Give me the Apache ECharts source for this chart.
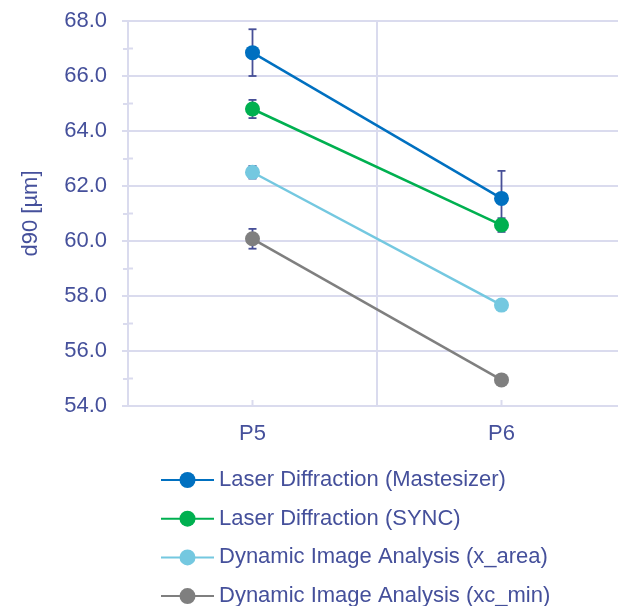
<!DOCTYPE html>
<html>
<head>
<meta charset="utf-8">
<script src="https://cdn.jsdelivr.net/npm/echarts@6/dist/echarts.min.js"></script>
<style>
  html, body { margin: 0; padding: 0; background: #ffffff; }
  #chart { width: 618px; height: 606px; }
</style>
</head>
<body>
<div id="chart"></div>
<script>
// Samples on the category axis
const categories = ['P5', 'P6'];

// d90 values [µm] per method
const mastesizer = [66.85, 61.55];
const sync = [64.8, 60.58];
const xArea = [62.5, 57.67];
const xcMin = [60.08, 54.95];

// Standard deviations drawn as error bars
const mastesizerErr = [0.85, 1.0];
const syncErr = [0.33, 0.25];
const xAreaErr = [0.23, 0.1];
const xcMinErr = [0.36, 0.1];

// Series names shown in the legend
const seriesNames = [
  'Laser Diffraction (Mastesizer)',
  'Laser Diffraction (SYNC)',
  'Dynamic Image Analysis (x_area)',
  'Dynamic Image Analysis (xc_min)'
];

// Value-axis range and minor tick positions
const yMin = 54, yMax = 68, yStep = 2;
const minorTickValues = [55, 57, 59, 61, 63, 65, 67];

const colors = ['#0070c0', '#00b050', '#74c8e0', '#7f7f7f'];
const textColor = '#45509b';
const gridColor = '#dadbee';
const errColor = '#474f97';
const fontFamily = '"Liberation Sans", Arial, sans-serif';

const values = [mastesizer, sync, xArea, xcMin];
const errors = [mastesizerErr, syncErr, xAreaErr, xcMinErr];

const lineSeries = seriesNames.map((name, i) => ({
  name: name,
  type: 'line',
  data: values[i],
  symbol: 'circle',
  symbolSize: 15,
  z: 5,
  itemStyle: { color: colors[i] },
  lineStyle: { color: colors[i], width: 2.5 },
  emphasis: { disabled: true }
}));

// Error bars: vertical whisker with caps, below the markers
const errorSeries = seriesNames.map((name, i) => ({
  type: 'custom',
  name: name + ' err',
  z: 3,
  silent: true,
  data: values[i].map((v, j) => [j, v - errors[i][j], v + errors[i][j]]),
  renderItem: function (params, api) {
    const lo = api.coord([api.value(0), api.value(1)]);
    const hi = api.coord([api.value(0), api.value(2)]);
    const cap = 4;
    const style = { stroke: errColor, lineWidth: 1.8, fill: null };
    return {
      type: 'group',
      children: [
        { type: 'line', shape: { x1: lo[0], y1: lo[1], x2: hi[0], y2: hi[1] }, style: style },
        { type: 'line', shape: { x1: lo[0] - cap, y1: lo[1], x2: lo[0] + cap, y2: lo[1] }, style: style },
        { type: 'line', shape: { x1: hi[0] - cap, y1: hi[1], x2: hi[0] + cap, y2: hi[1] }, style: style }
      ]
    };
  }
}));

// Inner halves of the crossing tick marks on both axes
const tickSeries = {
  type: 'custom',
  name: 'ticks',
  silent: true,
  z: 1,
  data: categories.map((c, j) => ['x', j]).concat(minorTickValues.map(v => ['y', v])),
  renderItem: function (params, api) {
    const kind = params.dataIndex < categories.length ? 'x' : 'y';
    const style = { stroke: gridColor, lineWidth: 2 };
    if (kind === 'x') {
      const p = api.coord([api.value(1), yMin]);
      return { type: 'line', shape: { x1: p[0], y1: p[1], x2: p[0], y2: p[1] - 6 }, style: style };
    }
    const p = api.coord([0, api.value(1)]);
    const left = p[0] - api.size([1, 0])[0] / 2;
    return { type: 'line', shape: { x1: left, y1: p[1], x2: left + 5, y2: p[1] }, style: style };
  },
  encode: { x: -1, y: -1 }
};

const chart = echarts.init(document.getElementById('chart'), null, { renderer: 'canvas' });
chart.setOption({
  animation: false,
  backgroundColor: '#ffffff',
  textStyle: { fontFamily: fontFamily },
  // plot area runs past the right edge of the canvas
  grid: { left: 128, width: 498, top: 21, bottom: 200, containLabel: false, outerBoundsMode: 'none' },
  legend: {
    data: seriesNames,
    orient: 'vertical',
    left: 155,
    top: 464,
    height: 150,
    itemWidth: 53,
    itemHeight: 20,
    itemGap: 16.7,
    selectedMode: false,
    textStyle: { color: textColor, fontSize: 22, fontFamily: fontFamily, lineHeight: 20 }
  },
  xAxis: {
    type: 'category',
    data: categories,
    boundaryGap: true,
    axisLine: { lineStyle: { color: gridColor, width: 2 } },
    axisTick: { alignWithLabel: true, length: 6, lineStyle: { color: gridColor, width: 2 } },
    axisLabel: { color: textColor, fontSize: 22, margin: 17, fontFamily: fontFamily },
    splitLine: { show: true, lineStyle: { color: gridColor, width: 2 } }
  },
  yAxis: {
    type: 'value',
    min: yMin,
    max: yMax,
    interval: yStep,
    name: 'd90 [µm]',
    nameLocation: 'middle',
    nameRotate: 90,
    nameGap: 86,
    nameTextStyle: { color: textColor, fontSize: 22, fontFamily: fontFamily },
    axisLine: { show: true, lineStyle: { color: gridColor, width: 2 } },
    axisTick: { show: true, length: 6, lineStyle: { color: gridColor, width: 2 } },
    minorTick: { show: true, splitNumber: 2, length: 5, lineStyle: { color: gridColor, width: 2 } },
    axisLabel: {
      color: textColor, fontSize: 22, margin: 21, fontFamily: fontFamily,
      formatter: v => v.toFixed(1)
    },
    splitLine: { show: true, lineStyle: { color: gridColor, width: 2 } }
  },
  series: [tickSeries].concat(errorSeries, lineSeries)
});
</script>
</body>
</html>
